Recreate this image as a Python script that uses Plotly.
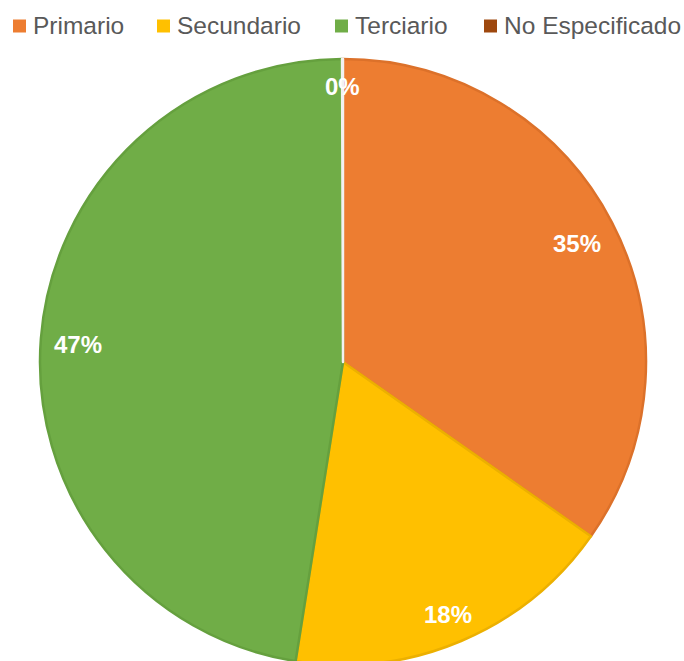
import math
import plotly.graph_objects as go

# Distribución por nivel
categories = ["Primario", "Secundario", "Terciario", "No Especificado"]
values = [34.75, 17.75, 47.45, 0.05]

fill_colors = ["#ED7D31", "#FFC000", "#70AD47", "#9E480E"]
edge_colors = ["#DC712A", "#ECB000", "#65A03E", "#F2F2F2"]

W, H = 684, 670
R = 303                      # pie radius in px
L_MARGIN, R_MARGIN = 40, 38
T_MARGIN = 59
B_MARGIN = H - T_MARGIN - 2 * R

LABEL_SIZE = 24
LEGEND_SIZE = 24.5
FONT = "Arial, Liberation Sans, sans-serif"

# legend row layout (px from the top-left corner of the page)
LEGEND_X = [13, 157, 335, 484]
LEGEND_Y = 26
SWATCH = 13
SWATCH_TEXT_GAP = 7


def px_to_paper(px, py):
    return (px - L_MARGIN) / (2 * R), (T_MARGIN + 2 * R - py) / (2 * R)


fig = go.Figure(
    go.Pie(
        labels=categories,
        values=values,
        sort=False,
        direction="clockwise",
        rotation=0,
        textinfo="none",
        marker=dict(colors=fill_colors, line=dict(color=edge_colors, width=2.5)),
        hovertemplate="%{label}: %{percent:.0%}<extra></extra>",
        showlegend=False,
    )
)

# Percentage labels placed just inside the outer edge of each slice
total = sum(values)
cum = 0.0
annotations = []
for v in values:
    share = v / total
    mid = (cum + share / 2) * 2 * math.pi
    cum += share
    txt = f"{round(share * 100):.0f}%"
    w = sum(0.889 if ch == "%" else 0.556 for ch in txt) * LABEL_SIZE
    h = 0.72 * LABEL_SIZE + 7
    s, c = math.sin(mid), math.cos(mid)
    r = R - 12 - (w / 2 * abs(s) + h / 2 * abs(c))
    annotations.append(
        dict(
            x=0.5 + r * s / (2 * R),
            y=0.5 + r * c / (2 * R),
            xref="paper",
            yref="paper",
            text=f"<b>{txt}</b>",
            showarrow=False,
            xanchor="center",
            yanchor="middle",
            yshift=-3,
            font=dict(family=FONT, size=LABEL_SIZE, color="#FFFFFF"),
        )
    )

# Legend: coloured squares followed by the category names
shapes = []
for name, col, lx in zip(categories, fill_colors, LEGEND_X):
    x0, y0 = px_to_paper(lx, LEGEND_Y + SWATCH / 2)
    x1, y1 = px_to_paper(lx + SWATCH, LEGEND_Y - SWATCH / 2)
    shapes.append(
        dict(type="rect", xref="paper", yref="paper", x0=x0, x1=x1, y0=y0, y1=y1,
             fillcolor=col, line=dict(width=0))
    )
    tx, ty = px_to_paper(lx + SWATCH + SWATCH_TEXT_GAP, LEGEND_Y)
    annotations.append(
        dict(x=tx, y=ty, xref="paper", yref="paper", text=name, showarrow=False,
             xanchor="left", yanchor="middle", xshift=-2,
             font=dict(family=FONT, size=LEGEND_SIZE, color="#595959"))
    )

fig.update_layout(
    width=W,
    height=H,
    margin=dict(l=L_MARGIN, r=R_MARGIN, t=T_MARGIN, b=B_MARGIN, autoexpand=False),
    paper_bgcolor="white",
    plot_bgcolor="white",
    annotations=annotations,
    shapes=shapes,
    showlegend=False,
)

fig.write_html(
    "out.html",
    post_script="document.documentElement.style.overflow='hidden';document.body.style.overflow='hidden';",
)
